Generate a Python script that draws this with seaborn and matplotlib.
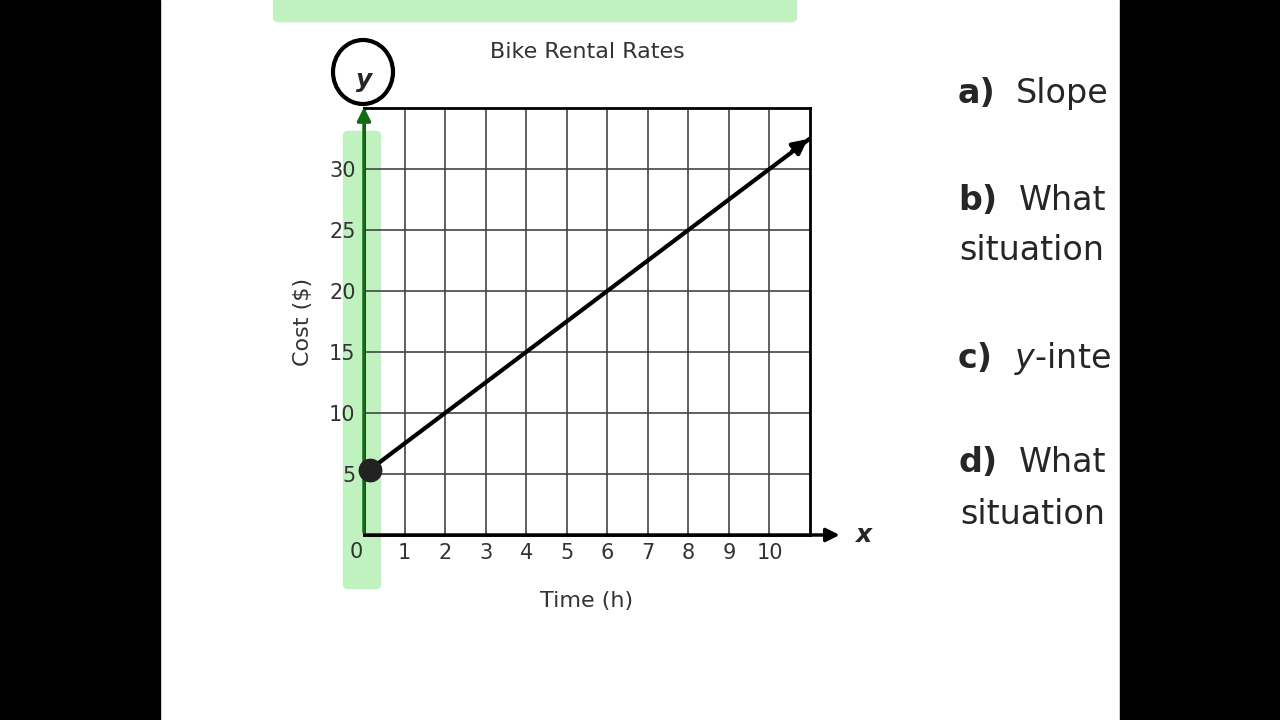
import matplotlib.pyplot as plt
import seaborn as sns
import numpy as np
from matplotlib.patches import Rectangle, FancyBboxPatch, Ellipse

sns.set_style("white")
plt.rcParams['font.family'] = ['DejaVu Sans']

# data
hours = [0, 11]
cost = [5, 32.5]
x_ticks = [1, 2, 3, 4, 5, 6, 7, 8, 9, 10]
y_ticks = [5, 10, 15, 20, 25, 30]
questions = [("a)", "Slope", 0.870, 1016), ("b)", "What", 0.722, 1019),
             ("c)", "$\\it{y}$-inte", 0.502, 1014), ("d)", "What", 0.358, 1019)]

fig = plt.figure(figsize=(12.8, 7.2), dpi=100)
ax = fig.add_axes([364/1280, 1-535/720, 446/1280, 427/720])
ax.patch.set_alpha(0)

# green highlighter marks (behind the axes)
fig.patches.append(FancyBboxPatch((350/1280, 135/720), 24/1280, 450/720, boxstyle="round,pad=0.005",
                                  transform=fig.transFigure, color="#bff2bf", zorder=-1))
fig.patches.append(FancyBboxPatch((280/1280, 1-18/720), 510/1280, 30/720, boxstyle="round,pad=0.005",
                                  transform=fig.transFigure, color="#bff2bf", zorder=-1))

ax.set_xlim(0, 11)
ax.set_ylim(0, 35)
for v in range(1, 11):
    ax.axvline(v, color="#444444", lw=1.2, zorder=1)
for v in range(5, 35, 5):
    ax.axhline(v, color="#444444", lw=1.2, zorder=1)
for s in ax.spines.values():
    s.set_color("black")
    s.set_linewidth(2)

sns.lineplot(x=hours, y=cost, ax=ax, color="black", lw=3, zorder=3)
ax.annotate("", xy=(11, 32.6), xytext=(10.5, 31.3),
            arrowprops=dict(arrowstyle="-|>", color="black", lw=3, mutation_scale=22), annotation_clip=False)
ax.scatter([0.15], [5.3], s=260, color="#222222", zorder=4, clip_on=False)

ax.set_xticks(x_ticks)
ax.set_yticks(y_ticks)
ax.tick_params(labelsize=15, colors="#333333", length=0, pad=6)
ax.text(-0.2, -0.55, "0", ha="center", va="top", fontsize=15, color="#333333")
ax.set_xlabel("Time (h)", fontsize=16, color="#333333", labelpad=20)
ax.set_ylabel("Cost ($)", fontsize=16, color="#333333", labelpad=12)
ax.set_title("Bike Rental Rates", fontsize=16, color="#333333", pad=36)

# axis arrows
ax.annotate("", xy=(11.8, 0), xytext=(0, 0),
            arrowprops=dict(arrowstyle="-|>", color="black", lw=2.5, mutation_scale=20), annotation_clip=False)
ax.annotate("", xy=(0, 35.3), xytext=(0, 0),
            arrowprops=dict(arrowstyle="-|>", color="#156b15", lw=2.5, mutation_scale=20), annotation_clip=False)
ax.text(12.1, 0, "x", fontsize=18, style="italic", fontweight="bold", va="center")
ax.text(0, 37.3, "y", fontsize=18, style="italic", fontweight="bold", ha="center", va="center")
fig.patches.append(Ellipse((363/1280, 1-72/720), 60/1280, 64/720, transform=fig.transFigure,
                           fill=False, ec="black", lw=3, zorder=5))

for lab, rest, y, xr in questions:
    fig.text(958/1280, y, lab, fontsize=24, fontweight="bold", va="center")
    fig.text(xr/1280, y, rest, fontsize=24, va="center")
fig.text(959/1280, 0.652, "situation", fontsize=24, va="center")
fig.text(960/1280, 0.285, "situation", fontsize=24, va="center")

# black side bars from the video frame
fig.patches.append(Rectangle((0, 0), 160/1280, 1, transform=fig.transFigure, color="black", zorder=10))
fig.patches.append(Rectangle((1120/1280, 0), 160/1280, 1, transform=fig.transFigure, color="black", zorder=10))

fig.savefig("out.png", dpi=100)
